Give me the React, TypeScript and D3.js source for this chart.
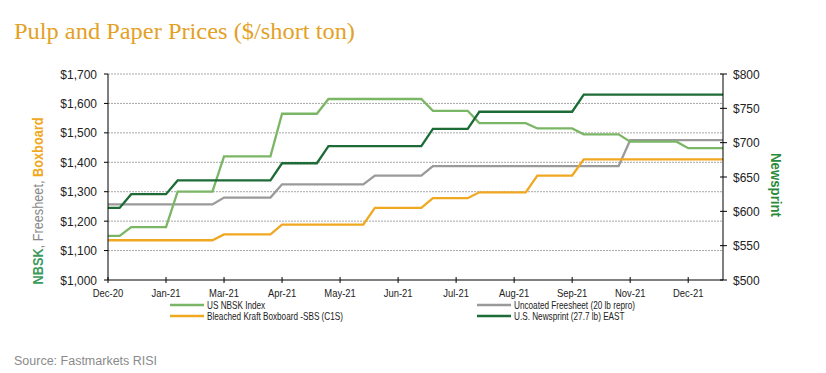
import React, { useRef, useEffect } from 'react';
import * as d3 from 'd3';

// weekly observations, Dec-20 .. Dec-21 (54 weeks)
const nbsk = [
  1150, 1150, 1180, 1180, 1180, 1180, 1300, 1300, 1300, 1300,
  1420, 1420, 1420, 1420, 1420, 1565, 1565, 1565, 1565, 1615,
  1615, 1615, 1615, 1615, 1615, 1615, 1615, 1615, 1575, 1575,
  1575, 1575, 1533, 1533, 1533, 1533, 1533, 1515, 1515, 1515,
  1515, 1495, 1495, 1495, 1495, 1470, 1470, 1470, 1470, 1470,
  1448, 1448, 1448, 1448,
];
const freesheet = [
  1257, 1257, 1257, 1257, 1257, 1257, 1257, 1257, 1257, 1257,
  1280, 1280, 1280, 1280, 1280, 1325, 1325, 1325, 1325, 1325,
  1325, 1325, 1325, 1355, 1355, 1355, 1355, 1355, 1387, 1387,
  1387, 1387, 1387, 1387, 1387, 1387, 1387, 1387, 1387, 1387,
  1387, 1387, 1387, 1387, 1387, 1475, 1475, 1475, 1475, 1475,
  1475, 1475, 1475, 1475,
];
const boxboard = [
  1135, 1135, 1135, 1135, 1135, 1135, 1135, 1135, 1135, 1135,
  1155, 1155, 1155, 1155, 1155, 1188, 1188, 1188, 1188, 1188,
  1188, 1188, 1188, 1245, 1245, 1245, 1245, 1245, 1278, 1278,
  1278, 1278, 1298, 1298, 1298, 1298, 1298, 1355, 1355, 1355,
  1355, 1410, 1410, 1410, 1410, 1410, 1410, 1410, 1410, 1410,
  1410, 1410, 1410, 1410,
];
const newsprint = [
  605, 605, 625, 625, 625, 625, 645, 645, 645, 645,
  645, 645, 645, 645, 645, 670, 670, 670, 670, 695,
  695, 695, 695, 695, 695, 695, 695, 695, 720, 720,
  720, 720, 745, 745, 745, 745, 745, 745, 745, 745,
  745, 770, 770, 770, 770, 770, 770, 770, 770, 770,
  770, 770, 770, 770,
];
const tickLabels = ['Dec-20', 'Jan-21', 'Mar-21', 'Apr-21', 'May-21', 'Jun-21', 'Jul-21', 'Aug-21', 'Sep-21', 'Nov-21', 'Dec-21'];
const leftTicks = [1000, 1100, 1200, 1300, 1400, 1500, 1600, 1700];
const rightTicks = [500, 550, 600, 650, 700, 750, 800];

const C_NBSK = '#7bb666';
const C_FREE = '#9a9a9a';
const C_BOX = '#f0a820';
const C_NEWS = '#1d6b36';

const App: React.FC = () => {
  const svgRef = useRef<SVGSVGElement | null>(null);

  useEffect(() => {
    const svg = d3.select(svgRef.current!);
    svg.selectAll('*').remove();

    const left = 108, right = 723, top = 74, bottom = 280;
    const x = d3.scaleLinear().domain([0, nbsk.length - 1]).range([left, right]);
    const yL = d3.scaleLinear().domain([1000, 1700]).range([bottom, top]);
    const yR = d3.scaleLinear().domain([500, 800]).range([bottom, top]);
    const axisFont = '"Liberation Sans", Arial, sans-serif';

    svg.append('text')
      .attr('x', 14).attr('y', 39)
      .attr('fill', '#e3a126')
      .attr('font-family', '"Liberation Serif", Georgia, serif')
      .attr('font-size', 23.5)
      .attr('textLength', 341).attr('lengthAdjust', 'spacingAndGlyphs')
      .text('Pulp and Paper Prices ($/short ton)');

    // gridlines
    svg.append('g').selectAll('line')
      .data(leftTicks.slice(1))
      .join('line')
      .attr('x1', left).attr('x2', right)
      .attr('y1', (d) => yL(d)).attr('y2', (d) => yL(d))
      .attr('stroke', '#a8a8a8').attr('stroke-width', 1)
      .attr('stroke-dasharray', '2,1');

    // lines
    const series: [number[], string, (v: number) => number][] = [
      [freesheet, C_FREE, yL],
      [boxboard, C_BOX, yL],
      [nbsk, C_NBSK, yL],
      [newsprint, C_NEWS, yR],
    ];
    series.forEach(([vals, color, y]) => {
      const line = d3.line<number>()
        .x((_, i) => x(i))
        .y((d) => y(d));
      svg.append('path')
        .datum(vals)
        .attr('fill', 'none')
        .attr('stroke', color)
        .attr('stroke-width', 2.3)
        .attr('d', line);
    });

    // axes lines
    const ax = svg.append('g').attr('stroke', '#000').attr('stroke-width', 1);
    ax.append('line').attr('x1', left).attr('x2', left).attr('y1', top).attr('y2', bottom);
    ax.append('line').attr('x1', right).attr('x2', right).attr('y1', top).attr('y2', bottom);
    ax.append('line').attr('x1', left).attr('x2', right).attr('y1', bottom).attr('y2', bottom);

    ax.selectAll('.lt').data(leftTicks).join('line')
      .attr('x1', left - 4).attr('x2', left).attr('y1', (d) => yL(d)).attr('y2', (d) => yL(d));
    ax.selectAll('.rt').data(rightTicks).join('line')
      .attr('x1', right - 3).attr('x2', right + 4).attr('y1', (d) => yR(d)).attr('y2', (d) => yR(d));
    ax.selectAll('.xt').data(tickLabels).join('line')
      .attr('x1', (_, i) => x(i * 5)).attr('x2', (_, i) => x(i * 5))
      .attr('y1', bottom - 3).attr('y2', bottom + 3);

    svg.append('g').selectAll('text').data(leftTicks).join('text')
      .attr('x', left - 11).attr('y', (d) => yL(d) + 4.5)
      .attr('text-anchor', 'end')
      .attr('font-family', axisFont)
      .attr('font-size', 12).attr('fill', '#222')
      .text((d) => d3.format('$,')(d));

    svg.append('g').selectAll('text').data(rightTicks).join('text')
      .attr('x', right + 10).attr('y', (d) => yR(d) + 4.5)
      .attr('font-family', axisFont)
      .attr('font-size', 12).attr('fill', '#222')
      .text((d) => d3.format('$,')(d));

    svg.append('g').selectAll('text').data(tickLabels).join('text')
      .attr('transform', (_, i) => `translate(${x(i * 5)},${bottom + 17}) scale(0.9,1)`)
      .attr('text-anchor', 'middle')
      .attr('font-family', axisFont)
      .attr('font-size', 10.5).attr('fill', '#222')
      .text((d) => d);

    // left axis title
    const lt = svg.append('text')
      .attr('transform', 'translate(43,201) rotate(-90)')
      .attr('text-anchor', 'middle')
      .attr('font-family', axisFont)
      .attr('font-size', 15)
      .attr('textLength', 167).attr('lengthAdjust', 'spacingAndGlyphs');
    lt.append('tspan').attr('fill', '#3c9a5c').attr('font-weight', 'bold').text('NBSK');
    lt.append('tspan').attr('fill', '#888').text(', Freesheet, ');
    lt.append('tspan').attr('fill', C_BOX).attr('font-weight', 'bold').text('Boxboard');

    svg.append('text')
      .attr('transform', 'translate(771,185) rotate(90)')
      .attr('text-anchor', 'middle')
      .attr('font-family', axisFont)
      .attr('font-size', 14).attr('font-weight', 'bold')
      .attr('fill', '#2a8a3a')
      .attr('textLength', 64).attr('lengthAdjust', 'spacingAndGlyphs')
      .text('Newsprint');

    // legend
    const legend = [
      { name: 'US NBSK Index', color: C_NBSK, lx: 170, ly: 305 },
      { name: 'Uncoated Freesheet (20 lb repro)', color: C_FREE, lx: 477, ly: 305 },
      { name: 'Bleached Kraft Boxboard -SBS (C1S)', color: C_BOX, lx: 170, ly: 316 },
      { name: 'U.S. Newsprint (27.7 lb) EAST', color: C_NEWS, lx: 477, ly: 316 },
    ];
    const lg = svg.append('g').selectAll('g').data(legend).join('g')
      .attr('transform', (d) => `translate(${d.lx},${d.ly})`);
    lg.append('line').attr('x1', 0).attr('x2', 34).attr('y1', 0).attr('y2', 0)
      .attr('stroke', (d) => d.color).attr('stroke-width', 2.3);
    lg.append('text')
      .attr('transform', 'translate(37,3.5) scale(0.82,1)')
      .attr('font-family', axisFont).attr('font-size', 10).attr('fill', '#222')
      .text((d) => d.name);

    svg.append('text')
      .attr('x', 14).attr('y', 365)
      .attr('font-family', axisFont)
      .attr('font-size', 12.5).attr('fill', '#8a8a8a')
      .text('Source:  Fastmarkets RISI');
  }, []);

  return (
    <svg ref={svgRef} width={826} height={373}
      style={{ position: 'absolute', left: 0, top: 0, background: '#fff' }} />
  );
};

export default App;
